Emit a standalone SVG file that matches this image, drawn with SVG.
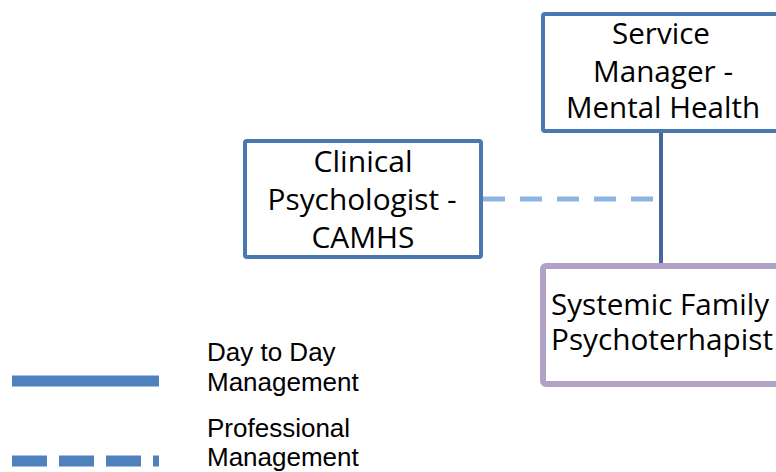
<svg xmlns="http://www.w3.org/2000/svg" width="776" height="472" viewBox="0 0 776 472">
<style>
.box{fill:#fff;stroke:#4A78B1;stroke-width:4}
.pbox{fill:#fff;stroke:#B2A1C7;stroke-width:6}
.bt{font-family:"Open Sans","Noto Sans",sans-serif;font-size:29px;fill:#000;text-anchor:middle}
.lt{font-family:"Liberation Sans",Arial,sans-serif;font-size:26px;fill:#000}
</style>
<rect width="776" height="472" fill="#fff"/>
<g id="connectors">
<line x1="661" y1="133" x2="661" y2="264" stroke="#43699C" stroke-width="4"/>
<line x1="483" y1="199" x2="659" y2="199" stroke="#8EB4E3" stroke-width="5" stroke-dasharray="22 15"/>
</g>
<g id="service-manager">
<rect class="box" x="543" y="14" width="240" height="117" rx="2"/>
<text class="bt" x="661" y="44" textLength="98" lengthAdjust="spacingAndGlyphs">Service</text>
<text class="bt" x="663" y="82" textLength="140" lengthAdjust="spacingAndGlyphs">Manager -</text>
<text class="bt" x="663" y="118" textLength="194" lengthAdjust="spacingAndGlyphs">Mental Health</text>
</g>
<g id="clinical-psychologist">
<rect class="box" x="245" y="141" width="236" height="116" rx="2"/>
<text class="bt" x="363" y="172" textLength="99" lengthAdjust="spacingAndGlyphs">Clinical</text>
<text class="bt" x="362" y="210" textLength="189" lengthAdjust="spacingAndGlyphs">Psychologist -</text>
<text class="bt" x="363" y="248" textLength="103" lengthAdjust="spacingAndGlyphs">CAMHS</text>
</g>
<g id="systemic-family-psychotherapist">
<rect class="pbox" x="543" y="266" width="240" height="118" rx="3"/>
<text class="bt" x="660" y="315" textLength="218" lengthAdjust="spacingAndGlyphs">Systemic Family</text>
<text class="bt" x="662" y="350" textLength="222" lengthAdjust="spacingAndGlyphs">Psychoterhapist</text>
</g>
<g id="legend">
<line x1="12" y1="381" x2="159" y2="381" stroke="#4F81BD" stroke-width="11"/>
<line x1="12" y1="461" x2="159" y2="461" stroke="#4F81BD" stroke-width="11" stroke-dasharray="35 12"/>
<text class="lt" x="207" y="361">Day to Day</text>
<text class="lt" x="207" y="391">Management</text>
<text class="lt" x="207" y="437">Professional</text>
<text class="lt" x="207" y="466">Management</text>
</g>
</svg>
